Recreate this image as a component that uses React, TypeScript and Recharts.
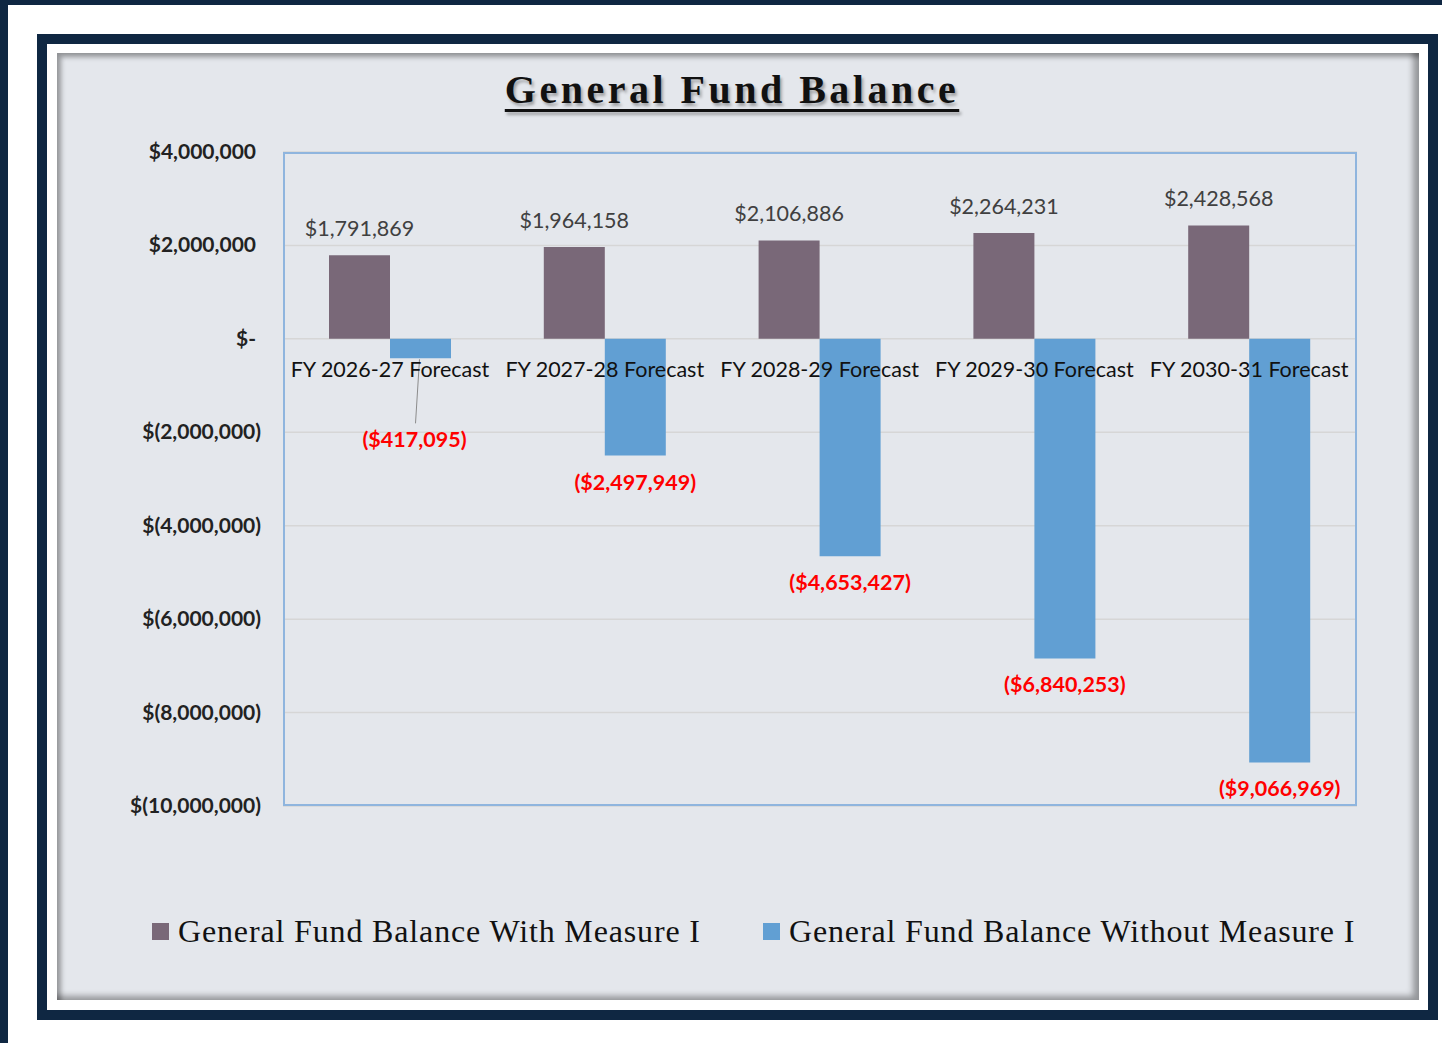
import { BarChart, Bar, XAxis, YAxis, CartesianGrid, LabelList } from 'recharts';

const categories = [
  'FY 2026-27 Forecast',
  'FY 2027-28 Forecast',
  'FY 2028-29 Forecast',
  'FY 2029-30 Forecast',
  'FY 2030-31 Forecast',
];
const withMeasure = [1791869, 1964158, 2106886, 2264231, 2428568];
const withoutMeasure = [-417095, -2497949, -4653427, -6840253, -9066969];
const yTicks = [4000000, 2000000, 0, -2000000, -4000000, -6000000, -8000000, -10000000];

const seriesNames = ['General Fund Balance With Measure I', 'General Fund Balance Without Measure I'];
const seriesColors = ['#796878', '#619fd3'];

const data = categories.map((name, i) => ({
  name,
  withM: withMeasure[i],
  withoutM: withoutMeasure[i],
}));

const SANS = 'Lato, "Open Sans", sans-serif';
const SERIF = '"Liberation Serif", "Times New Roman", serif';

const fmtAxis = (v: number) => {
  if (v === 0) return '$-';
  const s = Math.abs(v).toLocaleString('en-US');
  return v < 0 ? `$(${s})` : `$${s}`;
};
const fmtMoney = (v: number) => {
  const s = Math.abs(v).toLocaleString('en-US');
  return v < 0 ? `($${s})` : `$${s}`;
};

function YTick(props: any) {
  const { x, y, payload } = props;
  const v = payload.value as number;
  return (
    <text
      x={v < 0 ? x + 5 : x}
      y={y}
      dy={7}
      textAnchor="end"
      fill="#222"
      fontFamily={SANS}
      fontWeight={700}
      fontSize={21}
    >
      {fmtAxis(v)}
    </text>
  );
}

function PosLabel(props: any) {
  const { x, y, width, height, value } = props;
  const top = Math.min(y, y + height);
  return (
    <text x={x + width / 2} y={top - 19} textAnchor="middle" fill="#404040" fontFamily={SANS} fontSize={21.5}>
      {fmtMoney(value)}
    </text>
  );
}

function NegLabel(props: any) {
  const { x, y, width, height, value, index } = props;
  const bottom = Math.max(y, y + height);
  const cx = x + width / 2;
  if (index === 0) {
    // small bar: label pushed down below the category name, with a leader line
    return (
      <g>
        <line x1={cx - 1} y1={bottom + 1} x2={cx - 5} y2={bottom + 65} stroke="#8c8c8c" strokeWidth={1} />
        <text x={cx - 6} y={bottom + 89} textAnchor="middle" fill="#ff0000" fontFamily={SANS} fontWeight={700} fontSize={21.5}>
          {fmtMoney(value)}
        </text>
      </g>
    );
  }
  return (
    <text x={cx} y={bottom + 34} textAnchor="middle" fill="#ff0000" fontFamily={SANS} fontWeight={700} fontSize={21.5}>
      {fmtMoney(value)}
    </text>
  );
}

function CatLabel(props: any) {
  const { x, y, height, value } = props;
  const zero = Math.min(y, y + height);
  return (
    <text x={x} y={zero + 38} textAnchor="middle" fill="#111" fontFamily={SANS} fontSize={21.5}>
      {value}
    </text>
  );
}

export default function App() {
  const navy = '#0f2742';
  return (
    <div style={{ position: 'absolute', left: 0, top: 0, width: 1442, height: 1043, background: '#fff', overflow: 'hidden' }}>
      <div style={{ position: 'absolute', left: 0, top: 0, width: 1442, height: 5, background: navy }} />
      <div style={{ position: 'absolute', left: 0, top: 0, width: 8, height: 1043, background: navy }} />
      <div
        style={{
          position: 'absolute',
          left: 37,
          top: 34,
          width: 1401,
          height: 986,
          border: `10px solid ${navy}`,
          boxSizing: 'border-box',
          background: '#fff',
        }}
      />
      <div
        style={{
          position: 'absolute',
          left: 57,
          top: 53,
          width: 1362,
          height: 947,
          background: '#e4e7ec',
          boxShadow: 'inset 4px 4px 5px rgba(0,0,0,0.35), inset -6px -4px 6px rgba(0,0,0,0.35)',
        }}
      />
      <div
        style={{
          position: 'absolute',
          left: 0,
          width: 1464,
          top: 66,
          textAlign: 'center',
          fontFamily: SERIF,
          fontWeight: 700,
          fontSize: 40,
          letterSpacing: 3.5,
          color: '#111',
          textDecoration: 'underline',
          textDecorationThickness: 3,
          textUnderlineOffset: 6,
          textShadow: '2px 3px 3px rgba(0,0,0,0.3)',
        }}
      >
        General Fund Balance
      </div>
      <div style={{ position: 'absolute', left: 0, top: 0 }}>
        <BarChart
          width={1442}
          height={1043}
          data={data}
          margin={{ top: 152, right: 85, bottom: 237, left: 103 }}
          barGap={0}
        >
          <CartesianGrid vertical={false} stroke="#d6d6d6" strokeWidth={1.5} />
          <XAxis dataKey="name" hide />
          <YAxis
            width={180}
            domain={[-10000000, 4000000]}
            ticks={yTicks}
            interval={0}
            axisLine={false}
            tickLine={false}
            tickSize={0}
            tickMargin={27}
            tick={<YTick />}
          />
          <Bar dataKey="withM" name={seriesNames[0]} fill={seriesColors[0]} barSize={61} isAnimationActive={false}>
            <LabelList dataKey="withM" content={<PosLabel />} />
          </Bar>
          <Bar dataKey="withoutM" name={seriesNames[1]} fill={seriesColors[1]} barSize={61} isAnimationActive={false}>
            <LabelList dataKey="withoutM" content={<NegLabel />} />
            <LabelList dataKey="name" content={<CatLabel />} />
          </Bar>
        </BarChart>
      </div>
      <div
        style={{
          position: 'absolute',
          left: 283,
          top: 152,
          width: 1074,
          height: 654,
          border: '2px solid #8fb5de',
          boxSizing: 'border-box',
          pointerEvents: 'none',
        }}
      />
      {seriesNames.map((n, i) => (
        <div
          key={n}
          style={{
            position: 'absolute',
            left: i === 0 ? 152 : 763,
            top: 913,
            display: 'flex',
            alignItems: 'center',
            fontFamily: SERIF,
            fontSize: 32,
            letterSpacing: 0.85,
            color: '#111',
            whiteSpace: 'nowrap',
          }}
        >
          <span style={{ display: 'inline-block', width: 17, height: 17, background: seriesColors[i], marginRight: 9 }} />
          {n}
        </div>
      ))}
    </div>
  );
}
